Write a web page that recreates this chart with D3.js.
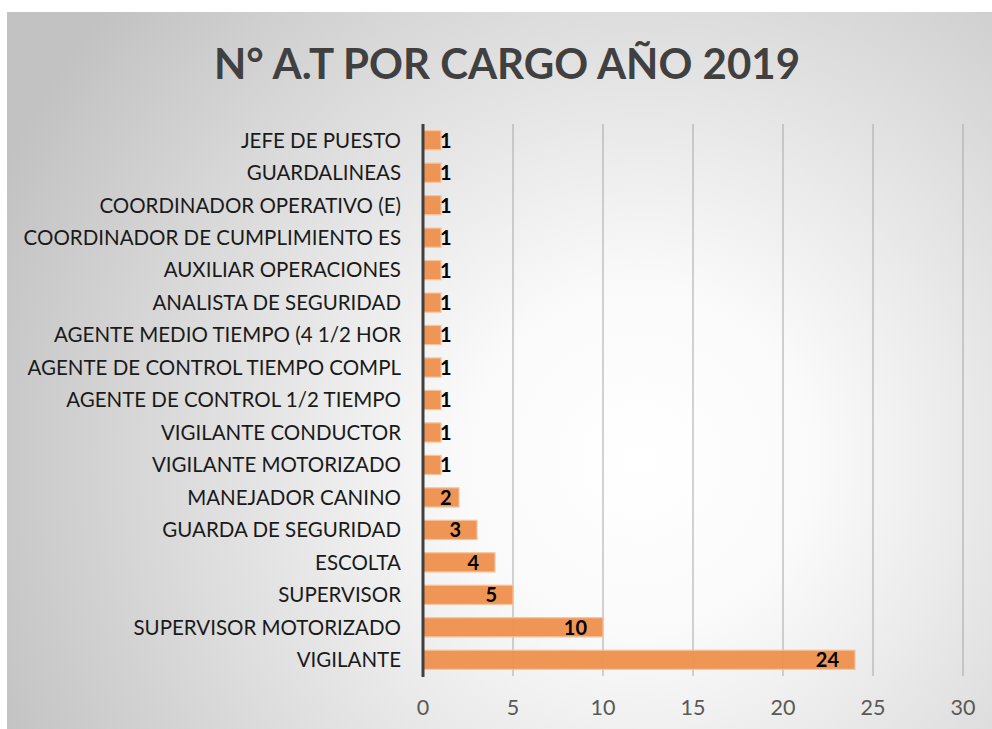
<!DOCTYPE html>
<html>
<head>
<meta charset="utf-8">
<script src="https://cdn.jsdelivr.net/npm/d3@7"></script>
<style>
  body { margin: 0; background: #fff; }
  svg { display: block; }
</style>
</head>
<body>
<div id="chart"></div>
<script>
// datos
const cargos = [
    "JEFE DE PUESTO",
    "GUARDALINEAS",
    "COORDINADOR OPERATIVO (E)",
    "COORDINADOR DE CUMPLIMIENTO ES",
    "AUXILIAR OPERACIONES",
    "ANALISTA DE SEGURIDAD",
    "AGENTE MEDIO TIEMPO (4 1/2 HOR",
    "AGENTE DE CONTROL TIEMPO COMPL",
    "AGENTE DE CONTROL 1/2 TIEMPO",
    "VIGILANTE CONDUCTOR",
    "VIGILANTE MOTORIZADO",
    "MANEJADOR CANINO",
    "GUARDA DE SEGURIDAD",
    "ESCOLTA",
    "SUPERVISOR",
    "SUPERVISOR MOTORIZADO",
    "VIGILANTE"
];
const accidentes = [1, 1, 1, 1, 1, 1, 1, 1, 1, 1, 1, 2, 3, 4, 5, 10, 24];
const xTicks = [0, 5, 10, 15, 20, 25, 30];
const titulo = "N° A.T POR CARGO AÑO 2019";

const width = 992;
const height = 729;
const margin = { top: 124, right: 29, bottom: 53, left: 423 };
const fuente = "Lato, 'Open Sans', sans-serif";

const svg = d3.select("#chart")
    .append("svg")
    .attr("width", width)
    .attr("height", height);

// fondo con degradado radial
const defs = svg.append("defs");
const grad = defs.append("radialGradient")
    .attr("id", "bg")
    .attr("gradientUnits", "userSpaceOnUse")
    .attr("cx", 640).attr("cy", 460)
    .attr("r", 700);
grad.append("stop").attr("offset", "0").attr("stop-color", "#ffffff");
grad.append("stop").attr("offset", "0.25").attr("stop-color", "#fafafa");
grad.append("stop").attr("offset", "1").attr("stop-color", "#c2c2c2");

svg.append("rect")
    .attr("x", 7).attr("y", 12)
    .attr("width", width).attr("height", height)
    .attr("fill", "url(#bg)");

svg.append("text")
    .attr("x", 507)
    .attr("y", 79)
    .attr("text-anchor", "middle")
    .attr("fill", "#404040")
    .style("font-family", fuente)
    .style("font-weight", "bold")
    .style("font-size", "42px")
    .text(titulo);

const x = d3.scaleLinear()
    .domain([0, 30])
    .range([margin.left, width - margin.right]);

const y = d3.scaleBand()
    .domain(cargos)
    .range([margin.top, height - margin.bottom])
    .paddingInner(0.41)
    .paddingOuter(0.205);

// lineas de cuadricula
svg.append("g")
    .selectAll("line")
    .data(xTicks.filter(d => d > 0))
    .join("line")
    .attr("x1", d => x(d)).attr("x2", d => x(d))
    .attr("y1", margin.top).attr("y2", height - margin.bottom)
    .attr("stroke", "#a6a6a6")
    .attr("stroke-width", 1);

// barras
svg.append("g")
    .selectAll("rect")
    .data(accidentes)
    .join("rect")
    .attr("x", x(0))
    .attr("y", (d, i) => y(cargos[i]))
    .attr("width", d => x(d) - x(0))
    .attr("height", y.bandwidth())
    .attr("fill", "#ee8f4c")
    .attr("fill-opacity", 0.95)
    .attr("stroke", "#f7c39c")
    .attr("stroke-width", 1.2);

// eje vertical
svg.append("line")
    .attr("x1", x(0)).attr("x2", x(0))
    .attr("y1", margin.top).attr("y2", height - margin.bottom + 1)
    .attr("stroke", "#404040")
    .attr("stroke-width", 3);

// etiquetas de categoria
svg.append("g")
    .selectAll("text")
    .data(cargos)
    .join("text")
    .attr("x", 401)
    .attr("y", d => y(d) + y.bandwidth() / 2)
    .attr("dy", "0.36em")
    .attr("text-anchor", "end")
    .attr("fill", "#1a1a1a")
    .style("font-family", fuente)
    .style("font-size", "20.5px")
    .text(d => d);

// etiquetas del eje x
svg.append("g")
    .selectAll("text")
    .data(xTicks)
    .join("text")
    .attr("x", d => x(d))
    .attr("y", 715)
    .attr("text-anchor", "middle")
    .attr("fill", "#595959")
    .style("font-family", fuente)
    .style("font-size", "21.5px")
    .text(d => d);

// etiquetas de valor
svg.append("g")
    .selectAll("text")
    .data(accidentes)
    .join("text")
    .attr("y", (d, i) => y(cargos[i]) + y.bandwidth() / 2)
    .attr("dy", "0.37em")
    .attr("text-anchor", "end")
    .attr("fill", "#000")
    .style("font-family", fuente)
    .style("font-weight", "bold")
    .style("font-size", "20px")
    .text(d => d)
    .attr("x", function(d) {
        const w = this.getComputedTextLength();
        return Math.max(x(d) - 16, x(0) + 17 + w);
    });
</script>
</body>
</html>
